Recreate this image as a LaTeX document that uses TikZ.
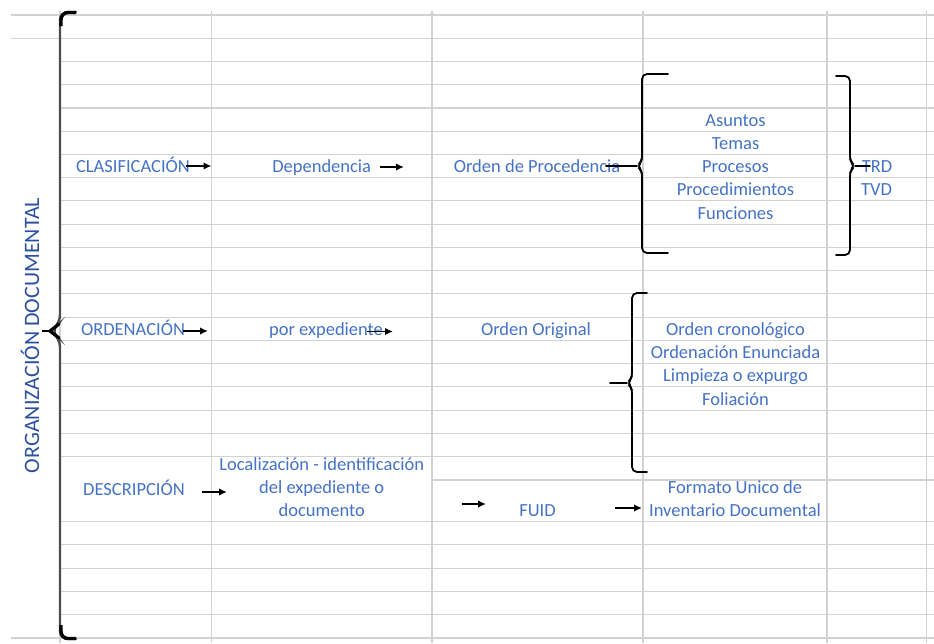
\documentclass[tikz,border=0pt]{standalone}
\usepackage{fontspec}
\setmainfont{Carlito}
\usetikzlibrary{arrows.meta,positioning}
\definecolor{celltext}{RGB}{68,114,196}
\definecolor{titletext}{RGB}{44,80,160}
\definecolor{gridgray}{RGB}{210,210,210}

\tikzset{
  gridline/.style={gridgray, line width=1.1pt},
  cell/.style={anchor=base, inner sep=0pt, text=celltext, font=\fontsize{18.5}{22}\selectfont},
  title/.style={anchor=base, rotate=90, inner sep=0pt, text=titletext, font=\fontsize{22}{26}\selectfont},
  arr/.style={line width=1.8pt, -{Latex[length=8pt,width=7.5pt]}},
  braceline/.style={line width=1.8pt, rounded corners=5pt, line cap=round},
}

\begin{document}
\begin{tikzpicture}[x=1pt, y=-1pt]
  \useasboundingbox (0,0) rectangle (934,643);

  % sheet rows and columns
  \draw[gridline] (11,15) -- (934,15);
  \draw[gridline] (11,38.24) -- (934,38.24);
  \foreach \k in {2,...,19}
    \draw[gridline] (60,15+23.24*\k) -- (934,15+23.24*\k);
  \draw[gridline] (432,480) -- (934,480);
  \foreach \r in {521.7,544.9,568.1,591.3,614.5}
    \draw[gridline] (60,\r) -- (934,\r);
  \draw[gridline] (11,638) -- (934,638);
  \foreach \c in {60,211.5,432,643,827,926.5}
    \draw[gridline] (\c,11) -- (\c,643);

  % title
  \node[title] (org) at (39,335.5) {ORGANIZACIÓN DOCUMENTAL};

  % clasificacion
  \node[cell] (clas) at (133,172.6) {CLASIFICACIÓN};
  \node[cell] (dep) at (321.7,172.6) {Dependencia};
  \node[cell] (proc) at (537,172.6) {Orden de Procedencia};
  \node[cell] (asun) at (735.5,126.2) {Asuntos};
  \node[cell] (temas) at (735.5,149.4) {Temas};
  \node[cell] (procs) at (735.5,172.6) {Procesos};
  \node[cell] (proced) at (735.5,195.8) {Procedimientos};
  \node[cell] (func) at (735.5,219) {Funciones};
  \node[cell] (trd) at (877,172.6) {TRD};
  \node[cell] (tvd) at (876.5,195.8) {TVD};

  % ordenacion
  \node[cell] (orden) at (133,335.2) {ORDENACIÓN};
  \node[cell] (exped) at (326,335.2) {por expediente};
  \node[cell] (orig) at (536,335.2) {Orden Original};
  \node[cell] (crono) at (735.5,335.2) {Orden cronológico};
  \node[cell] (enun) at (735.5,358.5) {Ordenación Enunciada};
  \node[cell] (limp) at (735.5,381.7) {Limpieza o expurgo};
  \node[cell] (fol) at (735.5,405) {Foliación};

  % descripcion
  \node[cell] (desc) at (134,495.5) {DESCRIPCIÓN};
  \node[cell] (loc1) at (321.7,470.4) {Localización - identificación};
  \node[cell] (loc2) at (321.7,493.6) {del expediente o};
  \node[cell] (loc3) at (321.7,516.7) {documento};
  \node[cell] (fuid) at (537.5,516.7) {FUID};
  \node[cell] (fmt1) at (735,493.6) {Formato Unico de};
  \node[cell] (fmt2) at (735,516.7) {Inventario Documental};

  % arrows
  \coordinate (clasA) at (186,166);   \coordinate (clasB) at (211.5,166);
  \coordinate (depA) at (380,167);    \coordinate (depB) at (404,167);
  \coordinate (ordA) at (183,331);    \coordinate (ordB) at (208,331);
  \coordinate (expA) at (367,331.5);  \coordinate (expB) at (393,331.5);
  \coordinate (descA) at (202,492);   \coordinate (descB) at (227,492);
  \coordinate (fuidA) at (462,504);   \coordinate (fuidB) at (486,504);
  \coordinate (fmtA) at (615,508);    \coordinate (fmtB) at (642,508);
  \draw[arr] (clasA) -- (clasB);
  \draw[arr] (depA) -- (depB);
  \draw[arr] (ordA) -- (ordB);
  \draw[arr] (expA) -- (expB);
  \draw[arr] (descA) -- (descB);
  \draw[arr] (fuidA) -- (fuidB);
  \draw[arr] (fmtA) -- (fmtB);

  % braces
  \draw[braceline, line width=2.4pt, black!70, rounded corners=8pt]
    (76,12) -| (60,323) -- (51,331) -- (60,339) |- (76,639);
  \draw[line width=3.4pt, rounded corners=7pt] (76,12.5) -| (61,26);
  \draw[line width=3.4pt, rounded corners=7pt] (61,625) |- (76,638.5);
  \draw[line width=3.2pt, line cap=round] (59,324) -- (50,331) -- (59,338);
  \draw[line width=2.6pt] (50,331) -- (42,331);
  \draw[braceline] (668,74) -| (642,161) -- (637,166) -- (642,171) |- (668,253);
  \draw[braceline] (637,166) -- (606,166);
  \draw[braceline] (836,76) -| (850,161) -- (855,166) -- (850,171) |- (836,255);
  \draw[braceline] (855,166) -- (870,166);
  \draw[braceline] (647,293) -| (632,378) -- (627,383) -- (632,388) |- (647,472);
  \draw[braceline] (627,383) -- (610,383);
\end{tikzpicture}
\end{document}
